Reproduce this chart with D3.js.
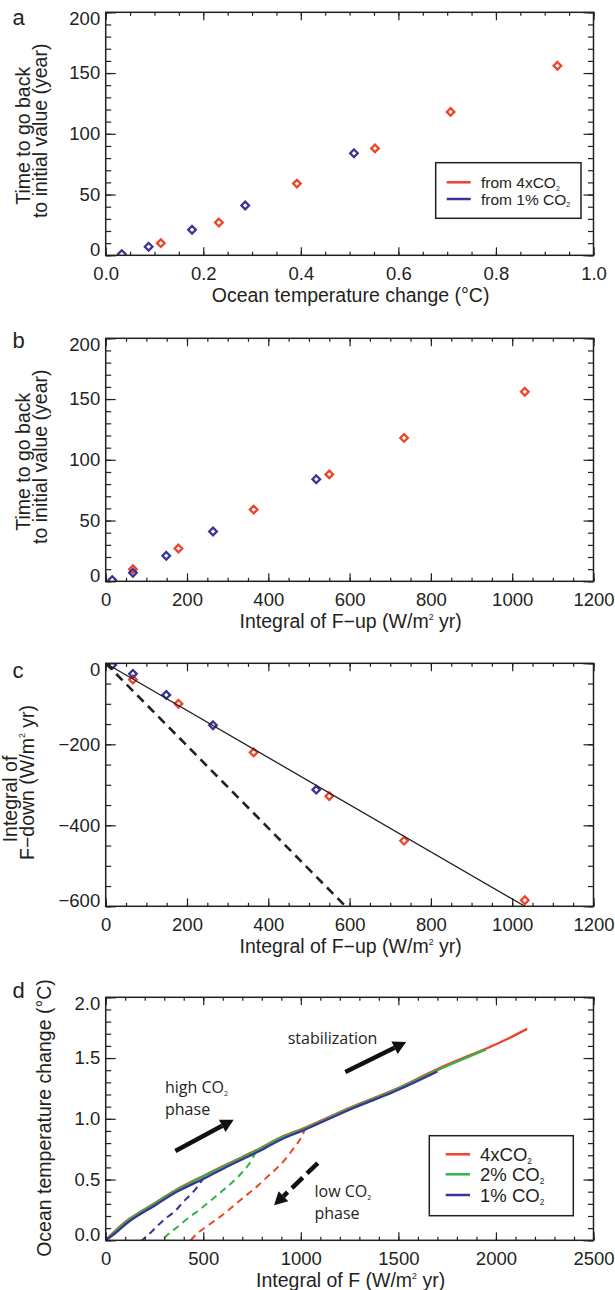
<!DOCTYPE html>
<html>
<head>
<meta charset="utf-8">
<script src="https://cdn.jsdelivr.net/npm/d3@7"></script>
<style>
  body { margin: 0; background: #fff; }
  svg { display: block; }
</style>
</head>
<body>
<div id="chart"></div>
<script>
// ---------------- data ----------------
// panels a-c : one diamond per experiment
const time4x   = [10, 27, 59, 88, 118, 156];
const time1pct = [1, 7, 21, 41, 84];
const dT4x     = [0.113, 0.232, 0.392, 0.552, 0.707, 0.926];
const dT1pct   = [0.033, 0.088, 0.177, 0.286, 0.509];
const fup4x    = [67, 179, 364, 550, 734, 1031];
const fup1pct  = [16, 67, 149, 264, 518];
const fdown4x  = [-40, -100, -220, -328, -438, -585];
const fdown1pct = [-4, -26, -78, -153, -312];
const fitX = [0, 1031], fitY = [0, -600];   // solid line, panel c
const refX = [0, 590],  refY = [0, -600];   // dashed line, panel c

// panel d : solid = high CO2 phase / stabilization, dashed = low CO2 phase
const red_F   = [0, 50, 120, 260, 360, 500, 640, 770, 900, 1020, 1250, 1480, 1700, 1960, 2050, 2160];
const red_T   = [0, 0.08, 0.175, 0.315, 0.415, 0.53, 0.64, 0.74, 0.85, 0.925, 1.09, 1.24, 1.41, 1.585, 1.65, 1.74];
const green_F = [0, 50, 120, 260, 360, 500, 640, 770, 900, 1020, 1250, 1480, 1700, 1800, 1950];
const green_T = [0, 0.075, 0.17, 0.31, 0.41, 0.525, 0.635, 0.735, 0.845, 0.92, 1.085, 1.235, 1.40, 1.47, 1.57];
const blue_F  = [0, 50, 120, 260, 360, 500, 640, 770, 900, 1020, 1250, 1480, 1700];
const blue_T  = [0, 0.06, 0.155, 0.295, 0.395, 0.505, 0.62, 0.72, 0.83, 0.91, 1.075, 1.225, 1.39];
const redDash_F   = [1025, 1000, 960, 900, 840, 780, 720, 660, 600, 540, 480, 435];
const redDash_T   = [0.93, 0.84, 0.75, 0.63, 0.54, 0.45, 0.37, 0.29, 0.21, 0.14, 0.07, 0.0];
const greenDash_F = [770, 740, 700, 650, 600, 540, 480, 420, 360, 320, 285];
const greenDash_T = [0.73, 0.64, 0.56, 0.48, 0.41, 0.33, 0.25, 0.18, 0.10, 0.05, 0.0];
const blueDash_F  = [505, 450, 400, 355, 300, 260, 215, 185];
const blueDash_T  = [0.52, 0.40, 0.32, 0.24, 0.17, 0.11, 0.04, 0.0];

// ---------------- style ----------------
const RED = '#ee4429', BLUE = '#3b3494', GREEN = '#33b34a', INK = '#231f20';
const SANS = "'Liberation Sans', Arial, sans-serif";
const MYR = "'Open Sans', 'Noto Sans', sans-serif";
const X0 = 105.7, X1 = 593.5, PH = 243;

const svg = d3.select('#chart').append('svg').attr('width', 615).attr('height', 1290);
const defs = svg.append('defs');

function steps (dom, st) {
  let lo = Math.round(dom[0] / st), hi = Math.round(dom[1] / st);
  return d3.range(lo, hi + 1).map(i => +(i * st).toFixed(6));
}

function axis (g, fn, scale, vals, size, pad, fmt, tr) {
  let a = fn(scale).tickValues(vals).tickSizeInner(-size).tickSizeOuter(0)
    .tickPadding(pad).tickFormat(fmt || (() => ''));
  let s = g.append('g').attr('transform', tr).call(a);
  s.select('.domain').remove();
  s.selectAll('line').attr('stroke', INK).attr('stroke-width', 1.2);
  s.selectAll('text').attr('font-family', SANS).attr('font-size', 18.5).attr('fill', INK);
  return s;
}

function panel (id, top, xDom, xMaj, xMin, yDom, yMaj, yMin, xFmt, yFmt) {
  let x = d3.scaleLinear().domain(xDom).range([X0, X1]);
  let y = d3.scaleLinear().domain(yDom).range([top + PH, top]);
  defs.append('clipPath').attr('id', id).append('rect')
    .attr('x', X0).attr('y', top).attr('width', X1 - X0).attr('height', PH);
  let g = svg.append('g');
  let plot = g.append('g').attr('clip-path', 'url(#' + id + ')');
  let ax = g.append('g');

  // minor ticks
  axis(ax, d3.axisBottom, x, steps(xDom, xMin), 3.5, 0, null, 'translate(0,' + (top + PH) + ')');
  axis(ax, d3.axisTop, x, steps(xDom, xMin), 3.5, 0, null, 'translate(0,' + top + ')');
  axis(ax, d3.axisLeft, y, steps(yDom, yMin), 5.5, 0, null, 'translate(' + X0 + ',0)');
  axis(ax, d3.axisRight, y, steps(yDom, yMin), 5.5, 0, null, 'translate(' + X1 + ',0)');
  // major ticks
  axis(ax, d3.axisBottom, x, steps(xDom, xMaj), 8, 11.9, xFmt, 'translate(0,' + (top + PH) + ')');
  axis(ax, d3.axisTop, x, steps(xDom, xMaj), 8, 0, null, 'translate(0,' + top + ')');
  let l = axis(ax, d3.axisLeft, y, steps(yDom, yMaj), 10, 5.5, yFmt, 'translate(' + X0 + ',0)');
  l.selectAll('text').attr('dy', d => d === yDom[1] ? '0.64em' : (d === yDom[0] ? '0em' : '0.32em'));
  axis(ax, d3.axisRight, y, steps(yDom, yMaj), 10, 0, null, 'translate(' + X1 + ',0)');

  ax.append('rect').attr('x', X0).attr('y', top).attr('width', X1 - X0).attr('height', PH)
    .attr('fill', 'none').attr('stroke', INK).attr('stroke-width', 1.5);
  return { x: x, y: y, g: g, plot: plot, top: top };
}

function diamonds (p, xs, ys, color) {
  p.plot.selectAll(null).data(xs).enter().append('path')
    .attr('d', 'M0,-3.8L3.8,0L0,3.8L-3.8,0Z')
    .attr('transform', (d, i) => 'translate(' + p.x(d) + ',' + p.y(ys[i]) + ')')
    .attr('fill', 'none').attr('stroke', color).attr('stroke-width', 2.3);
}

function curve (p, xs, ys, color, w, dash) {
  let line = d3.line().curve(d3.curveCatmullRom).x(d => p.x(d[0])).y(d => p.y(d[1]));
  p.plot.append('path').attr('d', line(d3.zip(xs, ys)))
    .attr('fill', 'none').attr('stroke', color).attr('stroke-width', w)
    .attr('stroke-dasharray', dash || null).attr('stroke-linejoin', 'round');
}

// txt: list of plain strings, {sub: '2'} or {sup: '2'}
function label (g, x, y, txt, size, font, anchor, rot) {
  let t = g.append('text').attr('font-family', font).attr('font-size', size).attr('fill', INK)
    .attr('text-anchor', anchor || 'start');
  if (rot) t.attr('transform', 'translate(' + x + ',' + y + ')rotate(-90)').attr('dy', '0.35em');
  else t.attr('x', x).attr('y', y);
  let shift = 0;
  txt.forEach(part => {
    let s = t.append('tspan');
    if (typeof part === 'string') {
      s.attr('dy', -shift).text(part);
      shift = 0;
    } else {
      let d = part.sub ? size * 0.18 : -size * 0.42;
      s.attr('font-size', size * 0.45).attr('dy', d - shift).text(part.sub || part.sup);
      shift = d;
    }
  });
  return t;
}

function xtitle (p, txt) {
  label(p.g, (X0 + X1) / 2 + 1, p.top + PH + 46.5, txt, 19.5, SANS, 'middle');
}

const flux = ['Integral of F\u2212up (W/m', { sup: '2' }, ' yr)'];
const f1 = d3.format('.1f'), f0 = d3.format('d');

// ---------------- panel a ----------------
const pa = panel('ca', 12.3, [0, 1], 0.2, 0.05, [0, 200], 50, 10, f1, f0);
diamonds(pa, dT4x, time4x, RED);
diamonds(pa, dT1pct, time1pct, BLUE);
xtitle(pa, ['Ocean temperature change (\u00b0C)']);
label(pa.g, 30, 135.8, ['Time to go back'], 19.5, SANS, 'middle', true);
label(pa.g, 47, 130.8, ['to initial value (year)'], 19.5, SANS, 'middle', true);
label(svg, 12.5, 25, ['a'], 22, SANS);

const legA = svg.append('g');
legA.append('rect').attr('x', 435.7).attr('y', 162.7).attr('width', 145.3).attr('height', 55.6)
  .attr('fill', '#fff').attr('stroke', INK).attr('stroke-width', 1.5);
[['from 4xCO', RED, 182.3], ['from 1% CO', BLUE, 199]].forEach(e => {
  legA.append('line').attr('x1', 446.7).attr('x2', 470.7).attr('y1', e[2]).attr('y2', e[2])
    .attr('stroke', e[1]).attr('stroke-width', 2.5);
  label(legA, 481, e[2] + 5.5, [e[0], { sub: '2' }], 15.5, SANS);
});

// ---------------- panel b ----------------
const pb = panel('cb', 338.3, [0, 1200], 200, 50, [0, 200], 50, 10, f0, f0);
diamonds(pb, fup4x, time4x, RED);
diamonds(pb, fup1pct, time1pct, BLUE);
xtitle(pb, flux);
label(pb.g, 30, 461.7, ['Time to go back'], 19.5, SANS, 'middle', true);
label(pb.g, 47, 456.7, ['to initial value (year)'], 19.5, SANS, 'middle', true);
label(svg, 12.5, 348, ['b'], 22, SANS);

// ---------------- panel c ----------------
const pc = panel('cc', 663.3, [0, 1200], 200, 50, [-600, 0], 200, 50, f0, f0);
diamonds(pc, fup4x, fdown4x, RED);
diamonds(pc, fup1pct, fdown1pct, BLUE);
curve(pc, fitX, fitY, INK, 1.3);
curve(pc, refX, refY, INK, 2.6, '9,6');
xtitle(pc, flux);
label(pc.g, 17, 799, ['Integral of'], 19.5, SANS, 'middle', true);
label(pc.g, 33.5, 782.5, ['F\u2212down (W/m', { sup: '2' }, ' yr)'], 19.5, SANS, 'middle', true);
label(svg, 12.5, 678, ['c'], 22, SANS);

// ---------------- panel d ----------------
const pd = panel('cd', 997.3, [0, 2500], 500, 100, [0, 2], 0.5, 0.1, f0, f1);
curve(pd, redDash_F, redDash_T, RED, 2, '7,5');
curve(pd, greenDash_F, greenDash_T, GREEN, 2, '7,5');
curve(pd, blueDash_F, blueDash_T, BLUE, 2, '7,5');
curve(pd, red_F, red_T, RED, 2.3);
curve(pd, green_F, green_T, GREEN, 2.3);
curve(pd, blue_F, blue_T, BLUE, 2.3);
xtitle(pd, ['Integral of F (W/m', { sup: '2' }, ' yr)']);
label(pd.g, 51, 1118, ['Ocean temperature change (\u00b0C)'], 19.5, SANS, 'middle', true);
label(svg, 12.5, 998, ['d'], 22, SANS);

function arrow (p, a, b, dash) {
  let x0 = p.x(a[0]), y0 = p.y(a[1]), x1 = p.x(b[0]), y1 = p.y(b[1]);
  let ang = Math.atan2(y1 - y0, x1 - x0), hl = 13, hw = 7;
  let bx = x1 - hl * Math.cos(ang), by = y1 - hl * Math.sin(ang);
  p.g.append('line').attr('x1', x0).attr('y1', y0).attr('x2', bx).attr('y2', by)
    .attr('stroke', '#111').attr('stroke-width', 4.5).attr('stroke-dasharray', dash || null);
  let nx = -Math.sin(ang) * hw, ny = Math.cos(ang) * hw;
  p.g.append('path').attr('fill', '#111')
    .attr('d', 'M' + x1 + ',' + y1 + 'L' + (bx + nx) + ',' + (by + ny) + 'L' + (bx - nx) + ',' + (by - ny) + 'Z');
}
arrow(pd, [357, 0.735], [656, 0.993]);
arrow(pd, [1228, 1.385], [1540, 1.632]);
arrow(pd, [1087, 0.636], [863, 0.288], '15,6');

label(pd.g, pd.x(933), pd.y(1.619), ['stabilization'], 16, MYR);
label(pd.g, pd.x(304), pd.y(1.212), ['high CO', { sub: '2' }], 16, MYR);
label(pd.g, pd.x(304), pd.y(1.028), ['phase'], 16, MYR);
label(pd.g, pd.x(1070), pd.y(0.356), ['low CO', { sub: '2' }], 16, MYR);
label(pd.g, pd.x(1070), pd.y(0.177), ['phase'], 16, MYR);

const legD = svg.append('g');
legD.append('rect').attr('x', 429.3).attr('y', 1135.7).attr('width', 144).attr('height', 80)
  .attr('fill', '#fff').attr('stroke', INK).attr('stroke-width', 1.5);
[['4xCO', RED, 1154.3], ['2% CO', GREEN, 1174.3], ['1% CO', BLUE, 1195]].forEach(e => {
  legD.append('line').attr('x1', 445.7).attr('x2', 470).attr('y1', e[2]).attr('y2', e[2])
    .attr('stroke', e[1]).attr('stroke-width', 2.5);
  label(legD, 480, e[2] + 6.5, [e[0], { sub: '2' }], 18.5, SANS);
});
</script>
</body>
</html>
